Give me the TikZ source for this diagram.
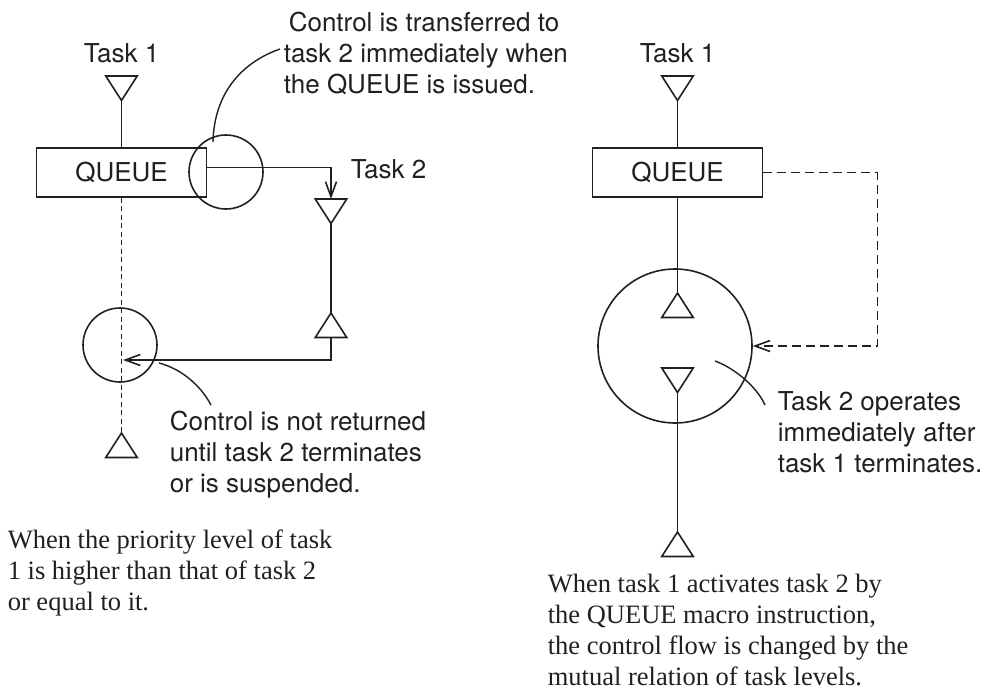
\documentclass[tikz,border=0pt]{standalone}
\usepackage{fontspec}
\setmainfont{Liberation Serif}
\setsansfont{TeX Gyre Heros}
\usetikzlibrary{arrows.meta}
\definecolor{ink}{RGB}{35,31,32}

% downward triangle: name, x of centre, y of base (tip 24.5 below)
\newcommand{\TriDown}[3]{%
  \coordinate (#1-b) at (#2,#3);
  \coordinate (#1-t) at (#2,#3+24.5);
  \draw[tri] (#2-15.75,#3) -- (#2+15.75,#3) -- (#1-t) -- cycle;}
% upward triangle: name, x of centre, y of apex (base 24.5 below)
\newcommand{\TriUp}[3]{%
  \coordinate (#1-t) at (#2,#3);
  \coordinate (#1-b) at (#2,#3+24.5);
  \draw[tri] (#2-15.75,#3+24.5) -- (#2+15.75,#3+24.5) -- (#1-t) -- cycle;}

\begin{document}
\begin{tikzpicture}[x=1pt, y=-1pt, line width=1.6pt, color=ink,
  tri/.style={line join=miter},
  box/.style={draw, minimum width=170pt, minimum height=49pt, inner sep=0pt,
    font=\sffamily\fontsize{26}{31}\selectfont},
  ring/.style={draw, circle, inner sep=0pt},
  lbl/.style={inner sep=0pt, font=\sffamily\fontsize{26}{31}\selectfont},
  note/.style={inner sep=0pt, align=left, font=\sffamily\fontsize{26}{31}\selectfont},
  capt/.style={inner sep=0pt, align=left, font=\rmfamily\fontsize{26.5}{31}\selectfont},
  arr/.style={-{Straight Barb[length=15pt,width=11pt]}},
  fine dash/.style={dash pattern=on 5pt off 3.5pt},
  long dash/.style={dash pattern=on 9pt off 5pt},
  leader/.style={line width=1.4pt}]
\useasboundingbox (0,0) rectangle (986,696);

% ---------- left: task 1 has the higher priority ----------
\node[lbl, anchor=base] (lt1) at (121.5,62) {Task 1};
\TriDown{ta}{121.5}{76}
\node[box] (q1) at (121.5,172.5) {QUEUE};
\node[ring, minimum size=74pt] (c1) at (226,172) {};
\node[lbl, anchor=base west] (lt2) at (350,178) {Task 2};
\TriDown{tb}{331}{199}
\TriUp{tc}{331}{313}
\node[ring, minimum size=74pt] (c2) at (120,345) {};
\TriUp{td}{121.5}{433}
\coordinate (ret) at (123,360);

\draw (ta-t) -- (q1.north);
\draw[arr] ([yshift=5pt]q1.east) -| (tb-b);
\draw (tb-t) -- (tc-t);
\draw[arr] (tc-b) |- (ret);
\draw[fine dash] (q1.south) -- (td-t);

% annotations (multi-line nodes sit on the baseline of their last line)
\node[note, anchor=base west] (n1) at (283,93)
  {\hspace*{5pt}Control is transferred to\\task 2 immediately when\\the QUEUE is issued.};
\coordinate (a1s) at (213,142);
\coordinate (a1e) at (280,49);
\draw[leader] (a1s) .. controls (214,95) and (240,63) .. (a1e);

\node[note, anchor=base west] (n2) at (169,492)
  {Control is not returned\\until task 2 terminates\\or is suspended.};
\coordinate (a2s) at (159,363);
\coordinate (a2e) at (211,405);
\draw[leader] (a2s) .. controls (182,369) and (201,386) .. (a2e);

\node[capt, anchor=base west] (cap1) at (7,610)
  {When the priority level of task\\1 is higher than that of task 2\\or equal to it.};

% ---------- right: task 2 starts when task 1 ends ----------
\node[lbl, anchor=base] (rt1) at (677.5,62) {Task 1};
\TriDown{te}{677.5}{76}
\node[box] (q2) at (677.5,172.5) {QUEUE};
\node[ring, minimum size=154pt] (c3) at (675,346) {};
\TriUp{tf}{677.5}{293}
\TriDown{tg}{677.5}{368}
\TriUp{th}{677.5}{532}

\draw (te-t) -- (q2.north);
\draw (q2.south) -- (tf-t);
\draw (tg-t) -- (th-t);
\draw[long dash, arr] (q2.east) -- ++(114,0) |- (c3.east);

\node[note, anchor=base west] (n3) at (777,472)
  {Task 2 operates\\immediately after\\task 1 terminates.};
\coordinate (a3s) at (715,361);
\coordinate (a3e) at (765,405);
\draw[leader] (a3s) .. controls (732,367) and (756,385) .. (a3e);

\node[capt, anchor=base west] (cap2) at (547,685)
  {When task 1 activates task 2 by\\the QUEUE macro instruction,\\the control flow is changed by the\\mutual relation of task levels.};
\end{tikzpicture}
\end{document}
